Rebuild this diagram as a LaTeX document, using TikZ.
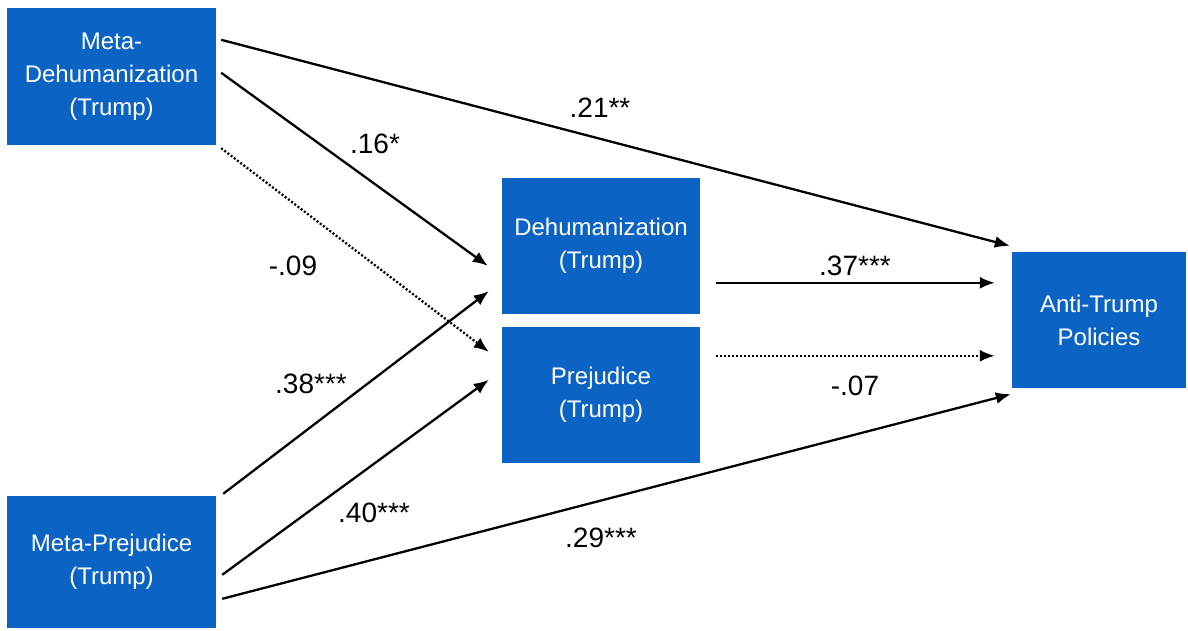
\documentclass[tikz,border=0pt]{standalone}
\usepackage{fontspec}
\setmainfont{Liberation Sans}
\usetikzlibrary{arrows.meta,calc}
\definecolor{boxblue}{RGB}{11,99,196}
\tikzset{
  boxnode/.style={fill=boxblue,draw=none,text=white,align=center,inner sep=0pt,
    font=\fontsize{24}{33}\selectfont},
  arr/.style={line width=2.3pt,-{Latex[length=15pt,width=12pt]}},
  dotarr/.style={arr,dash pattern=on 2pt off 2pt},
  lab/.style={anchor=base,inner sep=0pt,font=\fontsize{28}{30}\selectfont}
}
\begin{document}
\begin{tikzpicture}[x=1pt,y=-1pt]
\useasboundingbox (0,0) rectangle (1188,630);
\node[boxnode,minimum width=209pt,minimum height=137pt] (md) at (111.5,76.5) {Meta-\\Dehumanization\\(Trump)};
\node[boxnode,minimum width=209pt,minimum height=132pt] (mp) at (111.5,562) {Meta-Prejudice\\(Trump)};
\node[boxnode,minimum width=198pt,minimum height=136pt] (dh) at (601,246) {Dehumanization\\(Trump)};
\node[boxnode,minimum width=198pt,minimum height=136pt] (pj) at (601,395) {Prejudice\\(Trump)};
\node[boxnode,minimum width=174pt,minimum height=136pt] (at) at (1099,320) {Anti-Trump\\Policies};

\draw[arr] ([shift={(5,32)}]md.north east) -- ([shift={(-2,-6)}]at.north west);
\draw[arr] ([shift={(5,65)}]md.north east) -- ([shift={(-14,88)}]dh.north west);
\draw[dotarr] ([shift={(5,3)}]md.south east) -- ([shift={(-13,25)}]pj.north west);
\draw[arr] ([shift={(7,-2)}]mp.north east) -- ([shift={(-13,-23)}]dh.south west);
\draw[arr] ([shift={(6,79)}]mp.north east) -- ([shift={(-13,53)}]pj.north west);
\draw[arr] ([shift={(6,103)}]mp.north east) -- ([shift={(-1,6)}]at.south west);
\draw[arr] ([shift={(16,105)}]dh.north east) -- ([shift={(-17,31)}]at.north west);
\draw[dotarr] ([shift={(16,29)}]pj.north east) -- ([shift={(-17,104)}]at.north west);

\node[lab] (l1) at (600,117) {.21**};
\node[lab] (l2) at (375,153) {.16*};
\node[lab] (l3) at (293,275) {-.09};
\node[lab] (l4) at (311,393) {.38***};
\node[lab] (l5) at (374,522) {.40***};
\node[lab] (l6) at (601,547) {.29***};
\node[lab] (l7) at (855,275) {.37***};
\node[lab] (l8) at (855,395) {-.07};
\end{tikzpicture}
\end{document}
